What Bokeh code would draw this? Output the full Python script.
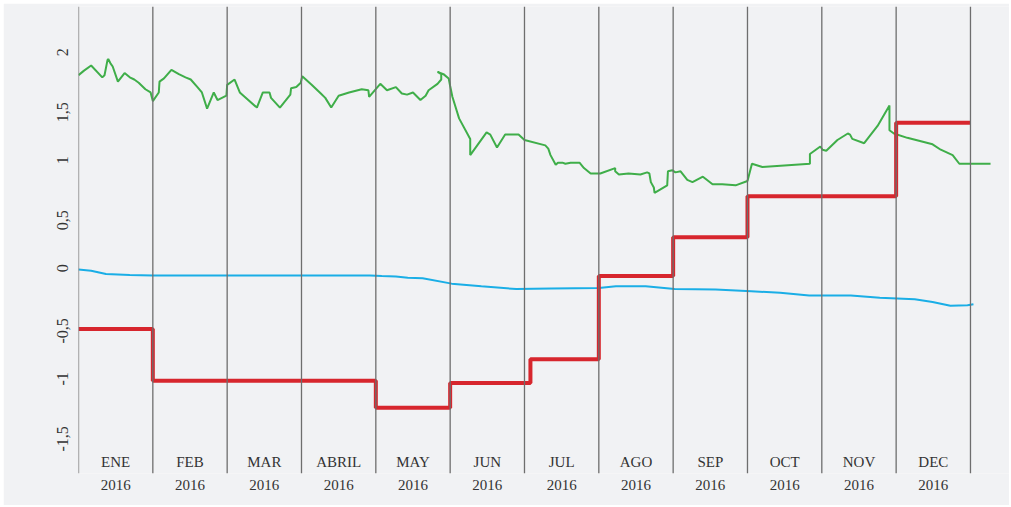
import math
from bokeh.plotting import figure
from bokeh.models import Range1d, FixedTicker, CustomJSTickFormatter, Span, LinearAxis
from bokeh.core.properties import value
from bokeh.embed import file_html
from bokeh.resources import INLINE

months = ["ENE", "FEB", "MAR", "ABRIL", "MAY", "JUN", "JUL", "AGO", "SEP", "OCT", "NOV", "DEC"]
years = ["2016"] * 12
y_ticks = [-1.5, -1, -0.5, 0, 0.5, 1, 1.5, 2]

# green series (x in fractional months since 1 Jan)
green_m = [0.00, 0.07, 0.17, 0.32, 0.35, 0.39, 0.40, 0.43, 0.46, 0.53,
           0.62, 0.69, 0.75, 0.81, 0.90, 0.97, 1.00, 1.08, 1.09, 1.15,
           1.25, 1.35, 1.44, 1.51, 1.60, 1.66, 1.73, 1.82, 1.87, 1.99,
           2.00, 2.10, 2.17, 2.40, 2.48, 2.57, 2.59, 2.71, 2.85, 2.86,
           2.93, 2.99, 3.01, 3.14, 3.26, 3.32, 3.40, 3.50, 3.64, 3.81,
           3.90, 3.91, 4.06, 4.15, 4.27, 4.35, 4.42, 4.50, 4.60, 4.67,
           4.71, 4.83, 4.88, 4.88, 4.83, 4.91, 4.98, 5.00, 5.03, 5.12,
           5.27, 5.27, 5.49, 5.54, 5.63, 5.74, 5.92, 6.00, 6.28, 6.32,
           6.35, 6.42, 6.45, 6.51, 6.55, 6.62, 6.74, 6.80, 6.89, 7.02,
           7.22, 7.22, 7.27, 7.40, 7.56, 7.65, 7.68, 7.70, 7.74, 7.75,
           7.92, 7.93, 7.99, 8.03, 8.10, 8.19, 8.26, 8.40, 8.53, 8.66,
           8.84, 9.00, 9.06, 9.20, 9.84, 9.84, 9.98, 10.01, 10.06, 10.21,
           10.35, 10.38, 10.41, 10.57, 10.75, 10.91, 10.91, 10.97, 11.15, 11.49,
           11.60, 11.76, 11.85, 12.27]
green_v = [1.79, 1.83, 1.88, 1.77, 1.79, 1.93, 1.94, 1.90, 1.87, 1.73,
           1.81, 1.77, 1.75, 1.72, 1.66, 1.63, 1.55, 1.63, 1.73, 1.76,
           1.84, 1.80, 1.77, 1.75, 1.68, 1.63, 1.48, 1.63, 1.56, 1.60,
           1.70, 1.75, 1.63, 1.49, 1.63, 1.63, 1.58, 1.49, 1.61, 1.67,
           1.68, 1.72, 1.78, 1.70, 1.62, 1.58, 1.49, 1.60, 1.63, 1.66,
           1.65, 1.59, 1.71, 1.65, 1.68, 1.62, 1.61, 1.63, 1.56, 1.60,
           1.65, 1.71, 1.75, 1.80, 1.82, 1.80, 1.76, 1.69, 1.59, 1.39,
           1.20, 1.05, 1.26, 1.24, 1.12, 1.24, 1.24, 1.19, 1.14, 1.11,
           1.05, 0.96, 0.98, 0.98, 0.97, 0.98, 0.98, 0.93, 0.88, 0.88,
           0.93, 0.90, 0.87, 0.88, 0.87, 0.89, 0.88, 0.80, 0.75, 0.70,
           0.77, 0.90, 0.91, 0.89, 0.90, 0.82, 0.80, 0.85, 0.78, 0.78,
           0.77, 0.81, 0.97, 0.94, 0.97, 1.06, 1.13, 1.10, 1.09, 1.19,
           1.25, 1.24, 1.20, 1.16, 1.32, 1.51, 1.28, 1.25, 1.21, 1.15,
           1.10, 1.05, 0.97, 0.97]

# blue series
blue_m = [0.00, 0.17, 0.37, 0.69, 1.00, 3.92, 4.08, 4.27, 4.43, 4.63,
          5.02, 5.42, 5.89, 6.36, 7.00, 7.23, 7.63, 8.02, 8.57, 9.05,
          9.44, 9.83, 10.39, 10.78, 11.25, 11.49, 11.73, 11.96, 12.04]
blue_v = [-0.01, -0.02, -0.05, -0.06, -0.065, -0.065, -0.07, -0.075, -0.085, -0.09,
          -0.14, -0.165, -0.19, -0.185, -0.18, -0.165, -0.165, -0.19, -0.195, -0.21,
          -0.225, -0.25, -0.25, -0.27, -0.285, -0.31, -0.345, -0.34, -0.33]

# red step series: change points and levels
red_m = [0, 1, 4, 5, 6.08, 7, 8, 9, 11, 12]
red_v = [-0.56, -1.04, -1.29, -1.06, -0.84, -0.07, 0.29, 0.67, 1.35]

BG = "#f1f2f4"
FONT = "Liberation Serif"
TXT = "#333333"

Y0, Y1 = -1.898, 2.426
p = figure(width=1006, height=502, output_backend="svg", toolbar_location=None,
           x_range=Range1d(0, 12.525), y_range=Range1d(Y0, Y1),
           y_axis_location=None, margin=(3, 0, 0, 3),
           min_border_left=75, min_border_right=0, min_border_top=3, min_border_bottom=32)
p.background_fill_color = BG
p.border_fill_color = BG
p.outline_line_color = None
p.xgrid.visible = False
p.ygrid.visible = False

# y axis on a slightly shifted range so the rotated labels sit centred on their values
p.extra_y_ranges = {"labels": Range1d(Y0 - 0.04, Y1 - 0.04)}
yax = LinearAxis(y_range_name="labels")
yax.ticker = FixedTicker(ticks=y_ticks)
yax.formatter = CustomJSTickFormatter(code="return tick.toString().replace('.', ',');")
yax.major_label_orientation = math.pi / 2
yax.axis_line_color = None
yax.major_tick_line_color = None
yax.minor_tick_line_color = None
yax.major_tick_in = 0
yax.major_tick_out = 0
yax.major_label_standoff = 16
yax.major_label_text_font = FONT
yax.major_label_text_font_size = "16px"
yax.major_label_text_color = TXT
p.add_layout(yax, "left")

p.xaxis.ticker = FixedTicker(ticks=[i + 0.5 for i in range(12)])
p.xaxis.formatter = CustomJSTickFormatter(args=dict(labels=years),
                                          code="return labels[Math.floor(tick)];")
p.xaxis.axis_line_color = None
p.xaxis.major_tick_line_color = None
p.xaxis.minor_tick_line_color = None
p.xaxis.major_tick_in = 0
p.xaxis.major_tick_out = 0
p.xaxis.major_label_standoff = 6
p.xaxis.major_label_text_font = FONT
p.xaxis.major_label_text_font_size = "15px"
p.xaxis.major_label_text_color = TXT

# month separators
for i in range(13):
    p.add_layout(Span(location=i, dimension="height", line_color="#6e6e6e", line_width=1.3))

# month labels inside the frame
p.text(x=[i + 0.5 for i in range(12)], y=[-1.787] * 12, text=months,
       text_font=value(FONT), text_font_size="15px", text_color=TXT,
       text_align="center", text_baseline="middle")

# series
p.line(green_m, green_v, line_color="#3fae49", line_width=2)
p.line(blue_m, blue_v, line_color="#1aaee6", line_width=2)
p.step(red_m, red_v + [red_v[-1]], mode="after", line_color="#d7262d", line_width=4)

open("out.html", "w").write(file_html(p, INLINE))
